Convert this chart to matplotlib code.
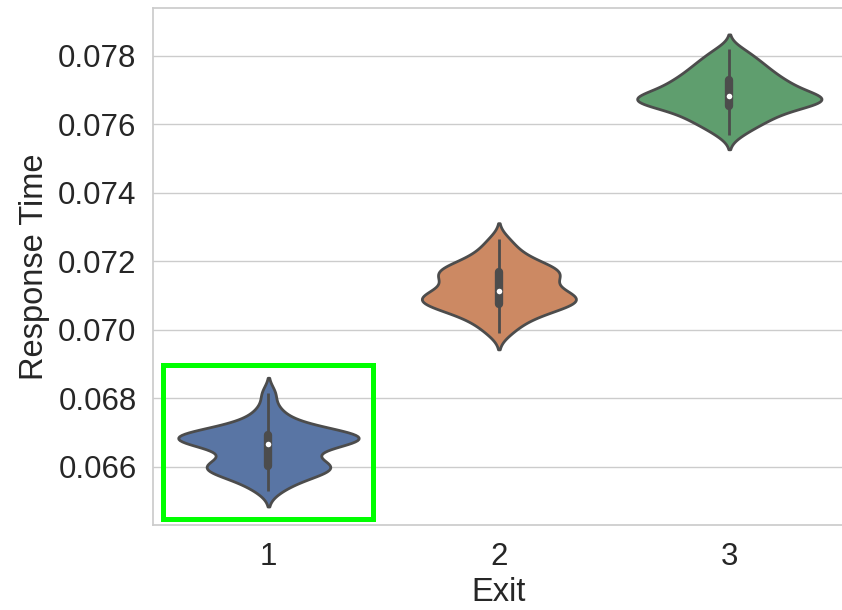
import matplotlib
matplotlib.use("Agg")
import matplotlib.pyplot as plt
import matplotlib.patches as patches
import seaborn as sns
import numpy as np
import pandas as pd

# response times per exit (seconds)
exit_1 = [0.06530, 0.06550, 0.06560, 0.06570, 0.06578, 0.06584, 0.06589, 0.06593, 0.06597, 0.06600,
          0.06603, 0.06607, 0.06612, 0.06618, 0.06626, 0.06636, 0.06646, 0.06655, 0.06661, 0.06666,
          0.06670, 0.06673, 0.06676, 0.06679, 0.06682, 0.06684, 0.06686, 0.06688, 0.06690, 0.06693,
          0.06696, 0.06699, 0.06703, 0.06708, 0.06714, 0.06722, 0.06733, 0.06748, 0.06772, 0.06815]
exit_2 = [0.06990, 0.07010, 0.07025, 0.07036, 0.07045, 0.07052, 0.07058, 0.07064, 0.07069, 0.07074,
          0.07078, 0.07081, 0.07084, 0.07087, 0.07090, 0.07094, 0.07098, 0.07102, 0.07106, 0.07110,
          0.07115, 0.07121, 0.07128, 0.07135, 0.07142, 0.07149, 0.07154, 0.07159, 0.07164, 0.07168,
          0.07172, 0.07176, 0.07181, 0.07187, 0.07194, 0.07202, 0.07212, 0.07225, 0.07242, 0.07265]
exit_3 = [0.07570, 0.07590, 0.07600, 0.07610, 0.07618, 0.07625, 0.07632, 0.07638, 0.07644, 0.07650,
          0.07656, 0.07660, 0.07663, 0.07666, 0.07668, 0.07670, 0.07672, 0.07674, 0.07677, 0.07680,
          0.07684, 0.07688, 0.07692, 0.07697, 0.07702, 0.07707, 0.07712, 0.07717, 0.07722, 0.07727,
          0.07733, 0.07740, 0.07747, 0.07754, 0.07762, 0.07770, 0.07780, 0.07790, 0.07803, 0.07820]
exits = ["1", "2", "3"]
y_ticks = [0.066, 0.068, 0.070, 0.072, 0.074, 0.076, 0.078]

sns.set_theme(style="whitegrid")
plt.rcParams['font.family'] = ['Liberation Sans', 'DejaVu Sans']

groups = [exit_1, exit_2, exit_3]
rows = []
for name, vals in zip(exits, groups):
    for v in vals:
        rows.append({"Exit": name, "Response Time": v})
df = pd.DataFrame(rows)

lw = 2
gray = "#4c4c4c"

fig = plt.figure(figsize=(8.42, 6.10), dpi=100)
ax = fig.add_axes([0.182, 0.139, 0.821, 0.848])
sns.violinplot(data=df, x="Exit", y="Response Time", hue="Exit", order=exits,
               palette="deep", legend=False, linewidth=lw, inner=None,
               linecolor=gray, bw_adjust=0.75, common_norm=True, ax=ax)

# box / whisker / median inside each violin
for i, vals in enumerate(groups):
    d = np.asarray(vals)
    q25, q50, q75 = np.percentile(d, [25, 50, 75])
    lim = 1.5 * (q75 - q25)
    lo = d[d >= q25 - lim].min()
    hi = d[d <= q75 + lim].max()
    ax.plot([i, i], [lo, hi], color=gray, linewidth=lw, solid_capstyle="butt", zorder=3)
    ax.plot([i, i], [q25, q75], color=gray, linewidth=lw * 3, solid_capstyle="round", zorder=3)
    ax.scatter(i, q50, s=(lw * 2) ** 2, color="white", zorder=4, linewidth=0)

ax.set_xlim(-0.5, 2.5)
ax.set_ylim(0.0643, 0.0794)
ax.set_yticks(y_ticks)
ax.set_yticklabels(["%.3f" % t for t in y_ticks])
ax.tick_params(labelsize=22.5, colors="#262626", pad=6)
ax.set_xlabel("Exit", fontsize=23.5, color="#262626", labelpad=4)
ax.set_ylabel("Response Time", fontsize=23.5, color="#262626", labelpad=6)

# highlight box around the first exit
lo1, hi1 = min(exit_1), max(exit_1)
ax.add_patch(patches.Rectangle((-0.456, lo1 - 0.00083), 0.91, hi1 - lo1 + 0.00167,
                               fill=False, edgecolor="#00ff00", linewidth=3.6,
                               zorder=5, clip_on=False))

fig.savefig("out.png", dpi=100)
